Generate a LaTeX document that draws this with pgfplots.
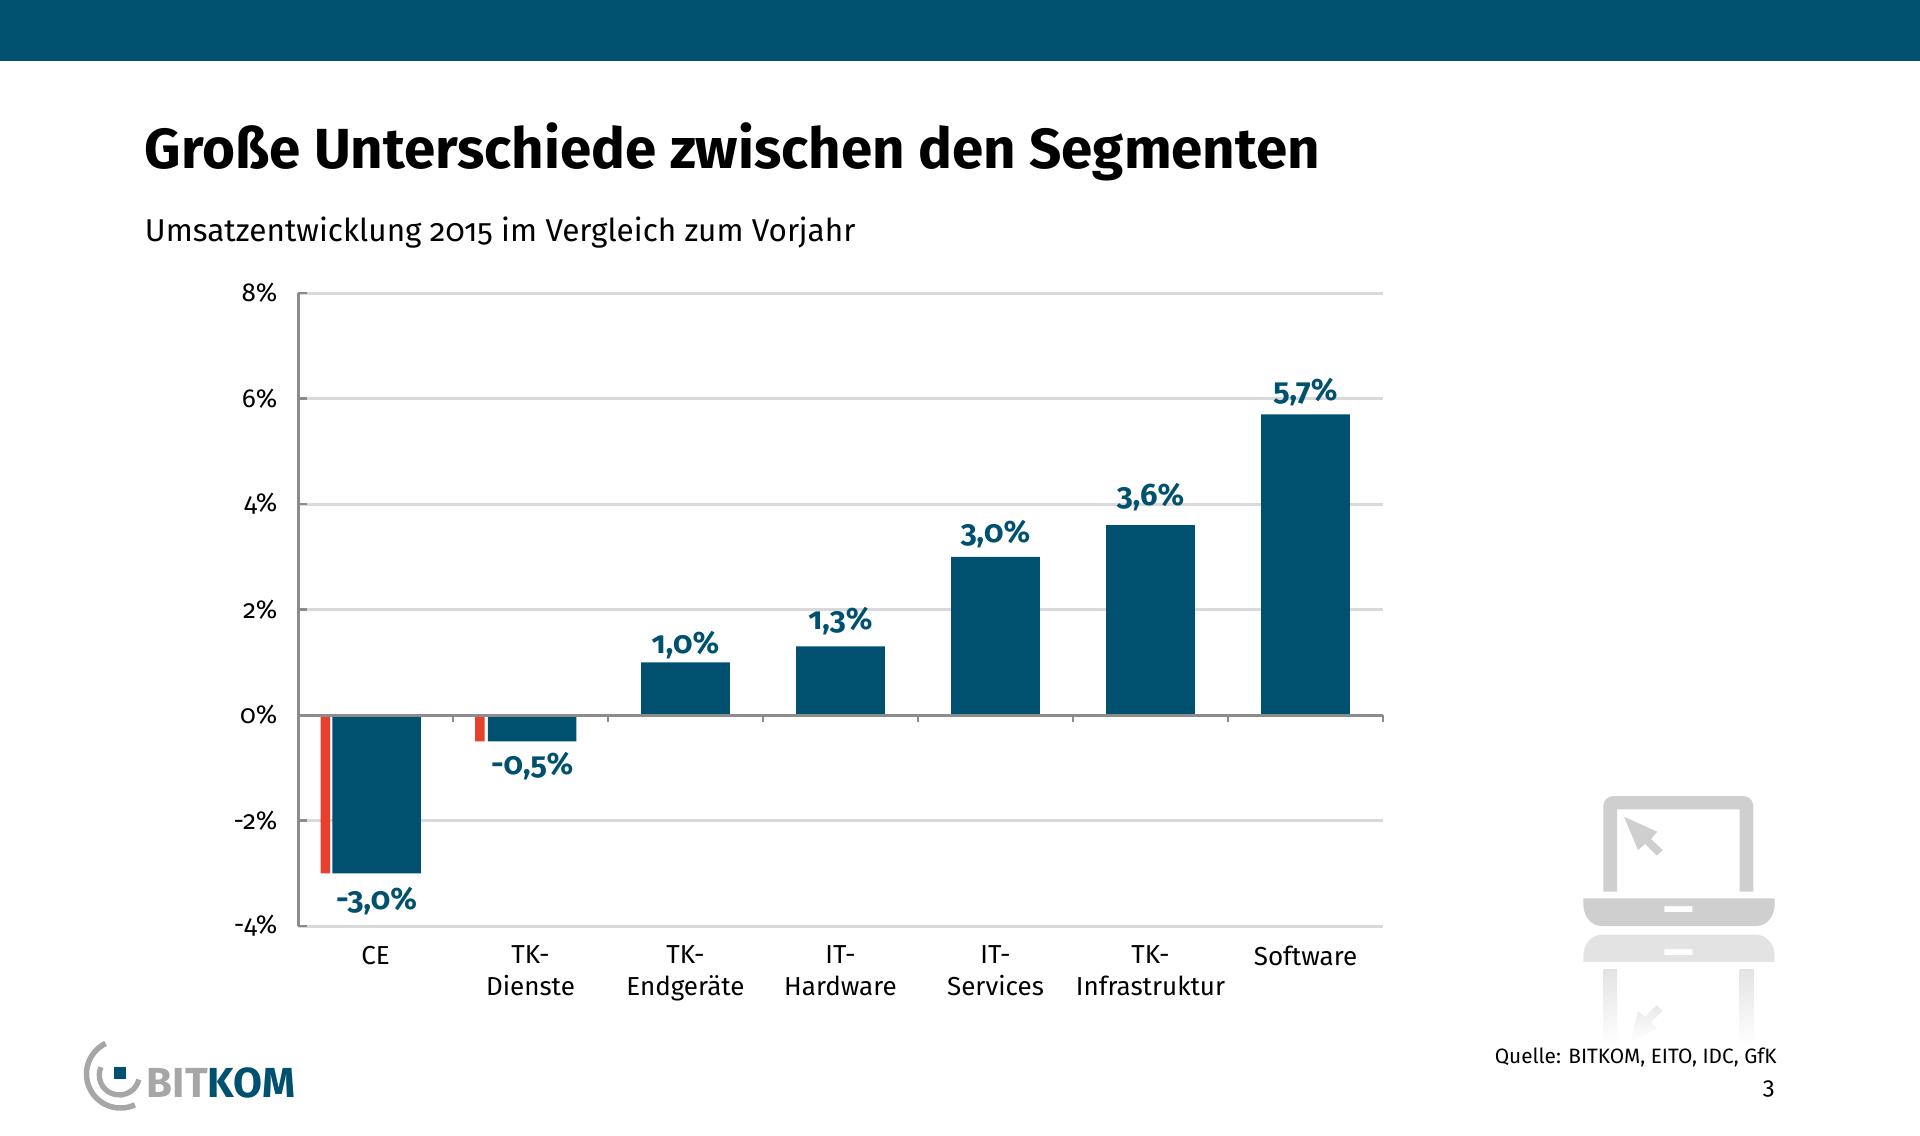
\documentclass[border=0pt]{standalone}
\usepackage{fontspec}
\setmainfont[Numbers=OldStyle]{Fira Sans}
\usepackage{pgfplots}
\pgfplotsset{compat=1.18}
\definecolor{bitblue}{HTML}{00506F}
\definecolor{bitred}{HTML}{E8402C}
\definecolor{gridc}{HTML}{D9D9D9}
\definecolor{axisc}{HTML}{8C8C8C}
\definecolor{iconc}{HTML}{CFCFCF}
\definecolor{iconr}{HTML}{E3E3E3}
\newcommand{\lab}[2]{\raisebox{#1pt}{#2}}
\begin{document}
\begin{tikzpicture}
\path[use as bounding box] (0,0) rectangle (960pt,-567.5pt);
\fill[bitblue] (0,0) rectangle (960pt,-30.5pt);
\begin{axis}[
  at={(149pt,-463pt)}, anchor=south west,
  scale only axis, width=542.5pt, height=316.5pt,
  xmin=-0.5, xmax=6.5, ymin=-4, ymax=8,
  axis y line*=left, axis x line*=bottom,
  x axis line style={draw=none,-},
  y axis line style={draw=axisc,line width=1.5pt,-},
  ytick={-4,-2,0,2,4,6,8},
  yticklabels={-4\%,-2\%,0\%,2\%,4\%,6\%,8\%},
  ymajorgrids, grid style={draw=gridc,line width=1.5pt},
  ytick style={draw=axisc,line width=1.3pt},
  major tick length=4.5pt,
  xtick={0,1,2,3,4,5,6},
  xticklabels={CE,{TK-\\Dienste},{TK-\\Endgeräte},{IT-\\Hardware},{IT-\\Services},{TK-\\Infrastruktur},Software},
  x tick style={draw=none},
  xticklabel style={align=center,font=\fontsize{13}{15.6}\selectfont,text=black,anchor=north,yshift=-6.5pt},
  yticklabel style={font=\fontsize{13}{14}\selectfont,text=black,xshift=-6.8pt},
  clip=false,
]
\addplot[ybar, bar width=4.75pt, fill=bitred, draw=none, forget plot]
  coordinates {(-0.324,-3) (0.674,-0.5)};
\addplot[ybar, bar width=44.3pt, fill=bitblue, draw=none,
  point meta=explicit symbolic,
  nodes near coords,
  nodes near coords align={anchor=base},
  every node near coord/.append style={font=\fontsize{15.5}{18}\bfseries\selectfont,text=bitblue,inner sep=0pt,anchor=base}]
  coordinates {
   (0.007,-3) [\lab{-18}{-3,0\%}]
   (1.01,-0.5) [\lab{-16.5}{-0,5\%}]
   (2,1.0) [\lab{4.2}{1,0\%}]
   (3,1.3) [\lab{8.3}{1,3\%}]
   (4,3.0) [\lab{7}{3,0\%}]
   (5,3.6) [\lab{10}{3,6\%}]
   (6,5.7) [\lab{7}{5,7\%}]
  };
\draw[axisc,line width=1.5pt] (axis cs:-0.5,0) -- (axis cs:6.5,0);
\pgfplotsinvokeforeach{0.5,1.5,2.5,3.5,4.5,5.5,6.5}{
  \draw[axisc,line width=1.3pt] (axis cs:#1,0) -- (axis cs:#1,-0.14);
}
\end{axis}
\begin{scope}[x=.5pt,y=-.5pt]
% title texts
\node[anchor=base west,inner sep=0,font=\fontsize{28.25}{30}\bfseries\selectfont] at (144.5,168) {Große Unterschiede zwischen den Segmenten};
\node[anchor=base west,inner sep=0,font=\fontsize{15.77}{18}\selectfont] at (144.5,241) {Umsatzentwicklung 2015 im Vergleich zum Vorjahr};
\node[anchor=base east,inner sep=0,font=\fontsize{10.4}{12}\selectfont] at (1777,1063) {Quelle: BITKOM, EITO, IDC, GfK};
\node[anchor=base east,inner sep=0,font=\fontsize{12}{12}\selectfont] at (1775,1094) {3};
% laptop icon
\fill[iconc]
  (1603.3,891.7) [rounded corners=5pt] -- (1603.3,796) -- (1753.3,796) [sharp corners] -- (1753.3,891.7) -- (1739.7,891.7) -- (1739.7,809.3) -- (1617,809.3) -- (1617,891.7) -- cycle;
\fill[iconc] (1624,816.7) -- (1657.3,831.7) -- (1651,839) -- (1662.7,850) -- (1656.7,855.7) -- (1645,844) -- (1638,850) -- cycle;
\fill[iconc,even odd rule]
  (1583.3,898.3) -- (1774.7,898.3) -- (1774.7,905) .. controls (1774,918) and (1766,926) .. (1756,926)
  -- (1602,926) .. controls (1592,926) and (1584,918) .. (1583.3,905) -- cycle
  (1664.3,906) rectangle (1692.3,912);
\fill[iconr,even odd rule]
  (1583.3,962) -- (1774.7,962) -- (1774.7,955) .. controls (1774,943) and (1766,934.7) .. (1756,934.7)
  -- (1602,934.7) .. controls (1592,934.7) and (1584,943) .. (1583.3,955) -- cycle
  (1664.3,949) rectangle (1692.3,955);
\shade[top color=iconr,bottom color=white] (1603.3,969) rectangle (1617,1045);
\shade[top color=iconr,bottom color=white] (1739.7,969) rectangle (1753.3,1045);
\shade[top color=iconr!80!white,bottom color=white]
  (1656.7,1005) -- (1662.7,1011) -- (1651,1022) -- (1657.3,1029) -- (1630,1042) -- (1638,1011) -- (1645,1017) -- cycle;
% logo
\draw[black!35,line width=2.75pt] (120.5,1074) ++(-116:34) arc[start angle=-116,end angle=-295,radius=34];
\draw[black!35,line width=2.65pt] (119.3,1075) ++(-157:20) arc[start angle=-157,end angle=-347,radius=20];
\fill[bitblue] (114,1066.7) rectangle (126,1079);
\node[anchor=base west,inner sep=0,font=\fontsize{21}{22}\bfseries\selectfont] at (146.5,1097) {\textcolor{black!35}{BIT}\textcolor{bitblue}{KOM}};
\end{scope}
\end{tikzpicture}
\end{document}
